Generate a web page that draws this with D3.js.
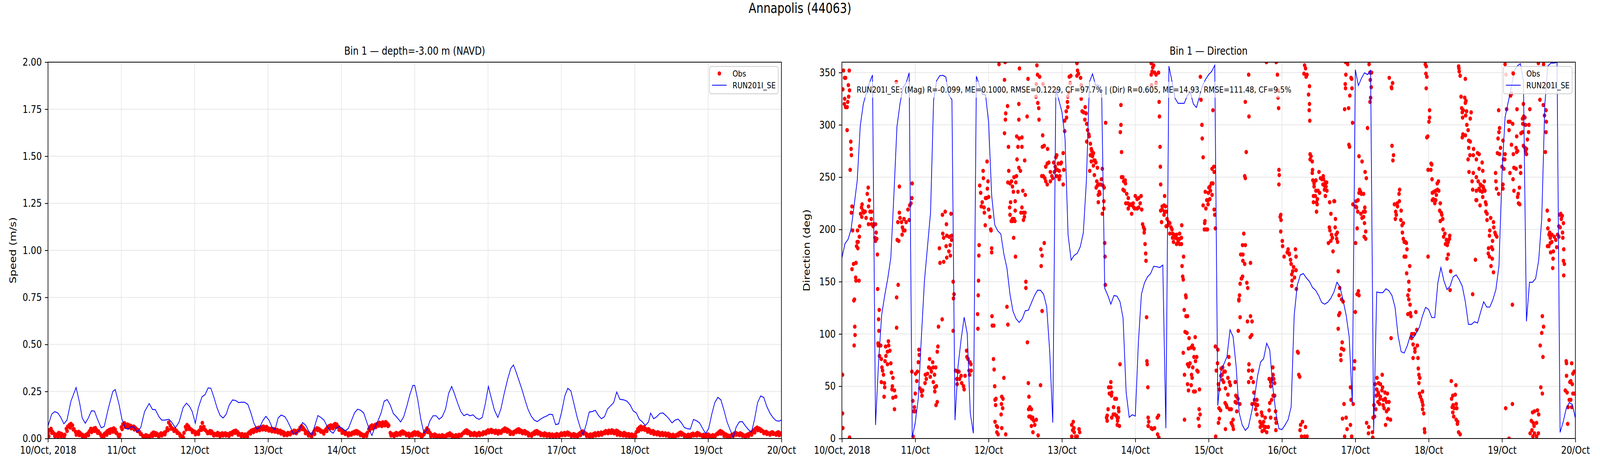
<!DOCTYPE html>
<html>
<head>
<meta charset="utf-8">
<script src="https://cdn.jsdelivr.net/npm/d3@7"></script>
<style>
  html, body { margin: 0; padding: 0; width: 100%; height: 100%; overflow: hidden; background: #fff; }
  svg { display: block; width: 100vw; height: 100vh; font-family: "DejaVu Sans", sans-serif; }
</style>
</head>
<body>
<svg id="fig" viewBox="0 0 5000 1200" preserveAspectRatio="none"></svg>
<script>
// ---- data ----
const startTime = Date.UTC(2018, 9, 10);   // 10 Oct 2018 00:00
const dayLabels = ['10/Oct, 2018', '11/Oct', '12/Oct', '13/Oct', '14/Oct', '15/Oct',
                   '16/Oct', '17/Oct', '18/Oct', '19/Oct', '20/Oct'];
const speedTicks = [0, 0.25, 0.5, 0.75, 1.0, 1.25, 1.5, 1.75, 2.0];
const dirTicks = [0, 50, 100, 150, 200, 250, 300, 350];
const seriesNames = ['Obs', 'RUN201I_SE'];
const statsText = 'RUN201I_SE: (Mag) R=-0.099, ME=0.1000, RMSE=0.1229, CF=97.7% | (Dir) R=0.605, ME=14.93, RMSE=111.48, CF=9.5%';

// observed speed (m/s), one value every 30 minutes from 10/Oct 00:00
const obsSpeedStep = 0.5;
const obsSpeed = [
  .028,.045,.052,.036,.026,.020,.022,.030,.027,.024,.016,.020,.052,.064,.072,.078,.070,.050,.036,.031,.036,.030,.022,.018,
  .013,.020,.026,.038,.052,.047,.053,.056,.044,.038,.027,.012,.016,.025,.032,.040,.045,.049,.050,.054,.048,.030,.016,.020,
  .060,.076,.082,.072,.075,.070,.068,.060,.064,.058,.050,.044,.034,.024,.014,.010,.018,.015,.012,.016,.026,.032,.030,.027,
  .019,.022,.028,.024,.030,.036,.055,.085,.070,.056,.050,.048,.042,.032,.025,.015,.010,.030,.062,.072,.064,.052,.046,.040,
  .036,.030,.034,.042,.060,.083,.062,.045,.036,.030,.040,.038,.028,.025,.020,.030,.026,.022,.028,.024,.028,.025,.022,.028,
  .030,.036,.040,.042,.035,.026,.020,.024,.015,.022,.018,.028,.035,.042,.045,.048,.052,.055,.058,.052,.060,.064,.058,.062,
  .055,.050,.052,.046,.050,.044,.046,.040,.042,.036,.034,.028,.024,.030,.026,.032,.036,.042,.040,.036,.044,.058,.066,.056,
  .045,.036,.028,.022,.018,.024,.036,.048,.055,.052,.046,.040,.034,.040,.050,.060,.066,.070,.064,.072,.078,.074,.062,.050,
  .045,.040,.036,.030,.025,.028,.022,.030,.034,.038,.040,.036,.030,.024,.020,.016,.022,.030,.050,.064,.070,.066,.072,.076,
  .080,.084,.078,.086,.082,.088,.080,.070,.030,.024,.020,.026,.030,.024,.028,.034,.038,.034,.028,.022,.026,.018,.024,.030,
  .034,.028,.032,.026,.020,.014,.022,.040,.054,.044,.030,.020,.016,.022,.018,.012,.016,.010,.018,.014,.012,.020,.024,.028,
  .022,.016,.012,.018,.014,.020,.016,.024,.032,.040,.044,.038,.032,.028,.024,.030,.026,.022,.030,.026,.024,.034,.030,.038,
  .044,.040,.046,.042,.038,.042,.036,.040,.034,.042,.048,.054,.050,.046,.040,.034,.030,.036,.040,.046,.050,.044,.040,.036,
  .040,.034,.030,.024,.020,.026,.032,.038,.040,.034,.030,.026,.022,.028,.024,.020,.024,.018,.022,.016,.020,.024,.018,.022,
  .028,.024,.030,.026,.032,.028,.022,.018,.024,.020,.016,.022,.028,.034,.038,.032,.026,.020,.016,.022,.018,.024,.028,.024,
  .030,.026,.032,.028,.034,.040,.036,.042,.038,.044,.040,.036,.042,.038,.032,.028,.024,.030,.026,.020,.024,.018,.022,.016,
  .020,.034,.050,.058,.064,.056,.060,.052,.046,.050,.042,.036,.040,.034,.028,.034,.030,.026,.030,.024,.028,.022,.026,.020,
  .016,.020,.014,.018,.022,.028,.032,.028,.022,.018,.014,.020,.016,.022,.026,.020,.024,.030,.026,.020,.016,.020,.014,.018,
  .022,.016,.012,.018,.014,.020,.026,.034,.040,.036,.030,.024,.020,.016,.012,.016,.020,.026,.030,.026,.022,.028,.024,.018,
  .014,.018,.022,.026,.030,.036,.044,.052,.058,.054,.050,.044,.038,.032,.036,.030,.026,.030,.034,.028,.024,.030,.034,.028,
  .026
];
// lower samples of the noisy observed speed, hourly at hh:15
const obsSpeedLowOffset = 0.25;
const obsSpeedLow = [
  .012,.030,.012,.010,.012,.008,.040,.058,.048,.020,.018,.010,
  .006,.018,.034,.040,.030,.020,.008,.020,.030,.036,.030,.008,
  .050,.062,.058,.054,.048,.040,.024,.006,.008,.006,.014,.018,
  .010,.016,.022,.044,.052,.040,.030,.014,.006,.048,.050,.034,
  .022,.024,.046,.048,.028,.028,.016,.018,.012,.016,.016,.014,
  .022,.030,.020,.012,.010,.010,.026,.034,.040,.044,.048,.046,
  .042,.038,.036,.032,.026,.018,.018,.022,.030,.028,.044,.050,
  .028,.016,.010,.024,.044,.036,.026,.040,.054,.054,.062,.046,
  .030,.024,.016,.020,.026,.026,.018,.010,.014,.044,.054,.060,
  .068,.066,.070,.066,.016,.012,.018,.020,.026,.018,.012,.016,
  .020,.018,.008,.030,.034,.012,.012,.006,.006,.006,.010,.016,
  .010,.008,.010,.016,.030,.028,.018,.018,.016,.018,.022,.026,
  .032,.034,.030,.026,.030,.040,.036,.024,.024,.034,.034,.028,
  .026,.016,.014,.024,.026,.018,.016,.014,.012,.010,.012,.012,
  .018,.018,.020,.012,.012,.010,.018,.026,.014,.008,.012,.016,
  .018,.020,.028,.028,.030,.028,.020,.018,.016,.014,.012,.010,
  .012,.040,.048,.046,.036,.030,.024,.022,.018,.018,.016,.012,
  .008,.010,.016,.020,.012,.008,.010,.016,.016,.018,.010,.008,
  .012,.006,.010,.024,.026,.014,.008,.008,.014,.020,.018,.014,
  .008,.014,.020,.032,.044,.040,.028,.024,.020,.024,.020,.018,
  .018
];

// model speed (m/s): [hour since start, value]
const modelSpeed = [
  [0,.067],[1.2,.129],[2.2,.143],[3.2,.136],[4.2,.112],[5.2,.078],[6.2,.098],[7.5,.198],[9.2,.271],[10.4,.185],
  [11.2,.109],[12.2,.081],[13.2,.109],[14.2,.147],[15.2,.146],[16.2,.102],[17.4,.057],[18.4,.064],[19.7,.157],[21.2,.25],
  [22,.26],[23.2,.185],[24.2,.102],[25.4,.054],[26.2,.050],[27.4,.064],[28.2,.061],[29.2,.033],[30.4,.061],[31.6,.143],
  [33.1,.186],[34.2,.154],[35.1,.154],[36.3,.116],[37.2,.098],[38.2,.098],[39.6,.102],[40.4,.088],[41.7,.057],[42.9,.088],
  [44.2,.164],[45.3,.188],[46.3,.171],[47.2,.143],[48.2,.081],[49.2,.164],[50.4,.222],[51.4,.233],[52.4,.269],[53.3,.267],
  [54.3,.219],[55.3,.164],[56.3,.123],[57.3,.109],[58.3,.129],[59.3,.178],[60.4,.205],[61.4,.202],[62.4,.191],[63.3,.193],
  [64.3,.193],[65.4,.181],[66.4,.136],[67.4,.081],[68.4,.050],[69.3,.061],[70.3,.095],[71.3,.118],[72.3,.098],[73.3,.061],
  [74.3,.047],[75.3,.109],[76.3,.125],[77.5,.116],[78.3,.095],[79.3,.061],[80.3,.025],[81.3,.030],[82.3,.047],[83.3,.085],
  [84.3,.071],[85.3,.040],[86.3,.016],[87.3,.067],[88.3,.122],[89.3,.112],[90.3,.098],[91.3,.067],[92.3,.040],[93.3,.028],
  [94.3,.054],[95.3,.064],[96.3,.054],[97.3,.040],[98.3,.054],[99.3,.095],[100.3,.136],[101.3,.156],[102.3,.150],[103.3,.136],
  [104.3,.088],[105.3,.040],[106,.016],[107,.061],[108,.095],[109,.136],[110,.198],[111,.207],[112,.178],[113,.133],
  [114,.116],[115.4,.088],[116.4,.116],[117.4,.171],[118.4,.233],[119.4,.282],[120,.282],[121,.205],[122,.102],[123,.030],
  [124,.047],[125,.095],[126,.121],[127,.121],[128,.102],[129,.116],[130.1,.157],[131.1,.240],[132.1,.277],[133.1,.233],
  [134.1,.185],[135.1,.143],[136.1,.121],[137.1,.130],[138.1,.121],[139.1,.126],[140.1,.109],[141.1,.102],[142.1,.112],[143.1,.185],
  [144.1,.277],[145.1,.212],[146.1,.150],[147.2,.112],[148.2,.157],[149.2,.233],[150.4,.315],[151.4,.371],[152.3,.391],[153.1,.357],
  [154.1,.309],[155.1,.260],[156.1,.205],[157.1,.154],[158.1,.119],[159.1,.098],[160.1,.090],[161.1,.102],[162.1,.112],[163.1,.119],
  [164.1,.129],[165.1,.127],[166.1,.074],[167.1,.078],[168.1,.143],[169.1,.226],[170.1,.267],[171.1,.253],[172.1,.185],[173.1,.116],
  [174.1,.061],[175.1,.021],[176.1,.074],[177.1,.141],[178.1,.143],[179.1,.150],[180.1,.123],[181.1,.105],[182.1,.116],[183.1,.157],
  [184.1,.174],[185.1,.191],[186.1,.247],[187.1,.209],[188.5,.205],[189.5,.198],[190.5,.178],[191.5,.147],[192.5,.136],[193.5,.102],
  [194.5,.088],[195.5,.069],[196.5,.088],[197.2,.135],[198.2,.105],[199.2,.116],[200.2,.133],[201.2,.136],[202.2,.122],[203.2,.105],
  [204.2,.083],[205.2,.098],[206.2,.103],[207.2,.085],[208.2,.059],[209.2,.052],[210.2,.050],[211.2,.101],[212.2,.095],[213.2,.083],
  [214.2,.054],[215.2,.026],[216.2,.054],[217.2,.129],[218.2,.191],[219.2,.219],[220.2,.205],[221.2,.150],[222.2,.088],[223.2,.047],
  [224.2,.006],[225.2,.061],[226.2,.088],[227.2,.090],[228.2,.067],[229.2,.047],[230.2,.033],[231.2,.102],[232.2,.191],[233.2,.226],
  [234.2,.219],[235.2,.171],[236.2,.136],[237.2,.112],[238.2,.095],[239.2,.092],[240,.098]
];

// model direction (deg), hourly from 10/Oct 00:00
const modelDir = [
  172.9,186.4,190.4,200.2,223,246.5,299,320,330.6,340,347.7,12.9,73.6,118,136.7,153,172.9,232.5,298,320,
  335.7,340,349.8,1.2,15.2,38.6,97,150.7,183.4,216,323.6,342.3,347,347.4,345.8,328.7,324,17.5,69,94.6,
  116,100.5,24.5,5,346.5,337.6,329.4,328.7,302.6,232.5,204.4,198.6,195.6,176.4,162.9,137.9,121.5,114.5,111,114.5,
  122.2,122.7,129.7,136.7,141.8,141.8,137.9,126.2,83,15.2,334,323.6,312.4,287.4,195,170.6,175.2,177.1,183.4,197,
  246.5,341,348.8,338,338,328.7,143.7,137,128.5,136.7,136.2,130.8,115.2,44.4,20.3,22.7,21.5,91.1,137.9,148.8,
  154.7,157.7,164.7,164.3,163.6,165.9,9.8,356.3,341.8,325.5,320.6,320.6,320.6,327.8,331.5,320,316.6,327.1,337.6,343.5,
  348.1,351.2,357,31.5,64.3,71.3,78.3,104,97.4,69,24.5,12.9,7.7,11,24.5,38.6,59.6,73.1,76.4,91.1,
  84.6,49.1,24.5,9.3,8.6,12.9,18,30.4,118,146.5,156.5,157.7,153.5,150.2,144.4,141.8,136.7,130.1,128.5,130.4,
  134.3,140.2,149.5,144.9,132,118,97,33.9,352.8,337.6,344.6,349.8,348.1,352.1,7,140.2,139.5,139.5,143.2,141.4,
  136.7,125.5,98.1,83,81.8,88.8,98.6,96.5,101.2,106.8,117.5,125.5,123.4,115.7,115.7,148.8,163.6,150.7,142.5,145.6,
  154.7,156.5,151.9,145.6,130.8,109.3,109.1,111.7,110.5,121,130.8,125.7,125.7,132.7,142.5,165.2,253.5,307.2,321.3,335.3,
  351.6,356.3,358.6,342.3,112.1,149.5,149.5,153,170.6,210.3,318.9,356.3,359.1,359.1,359.8,5.8,15.7,28.5,34.3,32.7,
  19.4
];

// observed direction (deg): [hour since start, value]
const obsDir = [
  [0.5,352],[2.4,352],[0.9,345],[1.2,345],[0.3,334],[2.1,338],[2.5,333],[2.2,327],[0.9,325],[0.8,320],[1.2,317],[1.7,317],[1.9,322],[1.7,295],[2.9,284],[3.0,277],[3.1,271],[2.7,257],[0.2,61],[0.2,24],[0.3,10],[2.5,1],
  [3.3,222],[3.1,216],[3.5,199],[3.8,167],[4.6,168],[3.3,162],[4.5,154],[4.6,151],[5.6,151],[3.9,132],[4.1,133],[4.2,107],[4.3,99],[4.0,89],[5.1,199],[5.7,193],[5.3,188],[5.0,188],[4.8,184],[5.2,182],[5.8,203],
  [6.6,224],[6.4,221],[6.1,215],[6.5,212],[6.9,218],[7.1,216],[7.6,217],[7.9,211],[8.3,234],[8.6,240],[9.0,228],[8.7,222],[9.2,217],[9.7,217],[9.6,210],[8.7,205],[9.7,205],[10.2,203],[10.5,205],[11.0,205],[11.2,197],[10.8,192],[11.0,189],[11.4,191],[11.6,176],
  [11.7,143],[12.2,123],[12.0,114],[12.1,103],[11.8,91],[11.9,89],[12.7,89],[12.3,79],[12.9,76],[13.1,68],[13.3,65],[13.6,61],[12.9,54],[13.9,53],[14.0,49],[13.8,40],[14.3,88],[14.4,79],[14.1,74],[14.9,71],[15.2,93],[15.3,89],[14.9,83],[15.7,84],[16.0,72],[16.2,63],[16.7,58],[16.5,50],[16.4,47],[17.2,46],[16.7,39],[17.6,40],[17.2,28],
  [17.9,106],[17.9,135],[18.4,147],[18.1,190],[18.6,189],[18.3,207],[18.8,216],[19.0,211],[19.5,207],[19.8,202],[20.1,199],[19.7,195],[20.6,199],[20.3,210],[21.0,207],[21.6,219],[22.2,223],[22.0,209],[22.6,225],[22.9,230],[23.0,244],[18.8,241],[17.8,341],
  [22.9,64],[24.1,62],[24.7,64],[24.5,55],[25.2,85],[25.3,80],[25.0,73],[24.0,43],[23.2,36],[23.7,30],[23.5,26],[24.0,26],[23.3,2],[25.5,48],[26.0,45],[26.4,46],[26.2,41],[27.3,61],[27.2,53],[27.6,57],[28.0,62],[28.7,76],[28.4,68],[29.0,67],[29.7,73],[29.3,64],[28.9,59],[29.9,68],[30.7,68],[30.3,61],[29.9,54],[30.4,49],[30.9,50],[30.4,45],[31.2,35],[30.8,32],[31.2,83],[31.4,88],[31.6,107],[32.8,114],
  [31.9,182],[32.1,168],[33.3,169],[32.9,214],[33.8,217],[34.2,205],[33.0,196],[33.3,192],[34.3,194],[35.1,193],[35.9,194],[34.1,184],[35.4,185],[35.0,179],[34.3,173],[35.5,175],[35.7,215],[35.9,190],
  [36.4,150],[36.7,138],[36.5,134],[36.4,103],[37.2,65],[37.9,64],[38.3,64],[37.6,57],[37.7,52],[38.5,57],[39.0,60],[39.2,53],[39.8,50],[40.0,47],[40.3,60],[40.8,84],[40.9,78],[41.3,76],[41.6,65],[41.9,73],[42.3,65],[42.2,71],[41.8,61],
  [44.4,119],[44.5,105],[44.7,151],[44.6,137],[44.8,175],[44.9,185],[45.1,242],[45.4,235],[45.6,222],[45.9,226],[46.2,256],[46.3,249],[46.5,221],[46.6,216],[46.9,204],[47.0,230],[47.3,230],[47.6,239],[47.8,246],[47.5,265],[48.0,219],[48.4,212],[48.7,200],[48.0,231],[48.8,199],[49.0,182],[49.0,178],
  [49.1,117],[49.2,108],[49.7,108],[49.6,76],[49.8,66],[50.0,50],[50.1,37],[50.3,32],[50.4,38],[50.1,16],[50.6,12],[50.9,11],[50.7,6],[51.1,4],[52.3,40],[52.7,38],[52.2,33],[52.6,29],[52.1,23],[52.3,10],[53.6,4],[53.0,58],[54.0,126],[54.3,109],
  [53.2,292],[53.5,305],[53.6,311],[54.2,318],[54.5,279],[53.2,343],[51.4,358],[53.4,360],[54.6,256],[54.3,245],[55.0,244],[55.5,246],[55.8,241],[56.1,236],[56.3,250],[57.1,251],[56.9,245],[57.6,236],[55.2,226],[54.9,221],[55.4,208],[55.0,214],[55.8,210],[56.3,210],[56.6,208],[55.8,208],[56.7,218],[56.7,227],[56.2,192],[56.8,174],
  [57.3,267],[57.6,279],[57.9,259],[57.2,289],[58.0,287],[58.9,288],[58.9,279],[58.4,256],[57.9,305],[57.9,320],[58.1,354],[59.2,237],[58.9,221],[58.6,216],[59.4,216],[59.9,216],[59.7,212],[59.4,209],[60.0,233],[59.8,266],[60.6,308],[60.9,344],[60.2,150],[60.2,144],
  [60.7,92],[61.0,53],[61.2,40],[61.5,30],[61.1,28],[62.0,28],[61.2,21],[61.7,21],[62.1,19],[62.4,20],[62.8,17],[63.6,18],[62.0,12],[63.1,13],[62.5,6],[64.2,3],
  [63.8,357],[64.0,348],[64.7,346],[64.1,321],[64.4,316],[64.5,305],[63.6,339],[63.5,327],[65.8,339],[65.7,290],[65.6,279],[66.2,280],[67.3,277],[65.4,251],[65.9,251],[66.4,249],[66.7,260],[67.2,263],[67.7,264],[68.2,255],[68.7,251],[66.7,246],[67.2,243],[68.2,246],[69.0,249],
  [69.3,264],[69.8,260],[70.0,257],[69.5,255],[70.3,251],[70.0,269],[70.3,271],[70.8,263],[70.5,257],[71.1,256],[71.6,263],[71.3,251],[71.1,248],[72.4,273],[72.6,257],[72.4,243],[71.8,264],[66.2,187],[65.1,181],[65.5,175],[65.2,165],[65.5,122],[65.0,51],
  [72.9,294],[72.9,304],[73.5,307],[73.4,313],[73.9,317],[73.8,322],[73.9,327],[74.2,331],[74.4,346],[74.9,347],[74.7,340],[76.9,359],[77.1,352],[77.4,349],[76.9,347],[78.1,345],[78.3,338],[78.3,325],[78.6,313],[79.1,312],[79.6,317],[79.9,311],[79.5,305],[80.1,301],[80.4,295],[80.1,284],
  [75.7,16],[75.2,13],[75.9,10],[75.5,8],[76.0,6],[76.5,2],[75.2,2],[77.6,9],[77.8,6],[77.0,2],
  [80.8,291],[80.9,289],[81.3,282],[81.1,256],[81.6,277],[81.8,275],[82.1,272],[81.3,271],[82.0,270],[82.3,273],[81.6,265],[82.5,266],[82.3,261],[82.8,266],[83.1,264],[83.6,259],[82.6,252],[83.4,246],[83.2,240],[83.6,242],[84.1,243],[84.7,243],[84.9,248],[84.2,236],[83.9,233],[84.4,234],[83.9,226],[85.2,258],[85.4,242],[85.8,240],[85.7,227],[85.7,220],[85.2,215],[86.0,187],[86.1,174],[86.2,147],[86.3,302],
  [91.3,319],[91.3,300],[91.1,293],[91.5,274],[91.5,250],[91.9,250],[92.2,246],[92.7,247],[92.8,244],[92.0,238],[92.4,237],[93.2,234],[93.7,230],[93.6,225],[94.1,223],[92.9,225],[93.7,220],[94.5,224],[95.0,223],[95.5,221],[95.3,225],[96.0,232],[96.6,229],[97.1,230],[97.9,232],[97.6,225],[97.1,221],[96.6,220],[95.8,220],[94.8,215],
  [98.1,219],[98.4,205],[98.7,202],[99.0,200],[98.9,197],[99.2,186],[99.4,177],[99.5,170],[99.7,116],[99.8,74],[99.9,71],[100.1,49],[100.2,20],[100.4,16],[100.2,12],[101.2,10],[101.6,9],[102.3,10],[103.2,20],[103.6,22],[103.3,4],[103.7,1],
  [91.0,71],[88.0,54],[87.3,49],[88.0,49],[87.5,43],[88.3,44],[88.2,41],[89.3,38],[89.8,38],[87.1,28],[86.8,22],[86.6,20],[86.8,17],[88.3,20],[88.8,23],[88.9,30],[89.3,23],[89.8,22],[90.1,20],[90.4,20],[90.2,17],[90.5,29],[90.6,26],[90.1,13],[90.8,12],
  [101.2,359],[102.0,357],[101.5,351],[101.2,348],[102.3,350],[102.8,348],[103.6,350],[101.7,355],[101.3,338],[102.8,340],[103.8,322],[103.9,308],[104.1,279],[104.2,260],[104.3,243],
  [105.6,232],[105.4,223],[104.8,222],[105.9,222],[104.3,218],[104.8,219],[105.6,217],[106.1,217],[105.4,214],[106.4,210],[106.9,207],[106.7,204],[106.1,203],[107.3,206],[107.7,202],[107.3,196],[108.0,200],[108.2,196],[108.7,195],[108.2,192],[108.5,188],[109.0,192],[109.5,195],[109.2,192],[109.8,191],[110.0,188],[109.5,186],[110.5,196],[110.5,191],[111.1,192],[110.0,187],[110.5,186],[111.1,186],[104.6,207],[111.2,204],
  [111.8,174],[111.3,165],[111.5,155],[111.7,152],[112.5,137],[112.6,135],[112.0,123],[112.6,117],[113.1,117],[112.3,102],[112.9,101],[113.6,96],[113.4,86],[114.2,87],[114.7,89],[115.2,86],[111.7,82],[113.1,71],[113.9,72],[113.5,69],[114.8,68],[115.2,78],[115.7,74],[116.1,78],[115.6,97],[116.2,65],[116.5,64],[112.1,61],[114.4,61],[114.6,58],[113.1,52],[114.3,51],[113.4,46],[115.1,45],[115.6,45],[117.0,47],[116.9,28],[117.2,23],[116.6,19],[116.9,12],[112.1,18],
  [117.3,346],[117.8,300],[117.9,287],[118.2,269],[117.5,324],[121.4,314],
  [121.1,258],[121.7,260],[121.8,255],[120.9,244],[121.4,244],[120.4,241],[120.1,240],[120.6,237],[119.9,235],[118.9,236],[119.4,228],[119.9,228],[120.4,229],[121.1,233],[119.8,224],[118.2,223],[119.1,220],[121.8,219],[122.0,214],[118.8,208],[118.7,206],[118.6,200],[119.2,200],[119.6,200],[122.2,201],
  [122.3,2],[122.2,88],[123.0,85],[122.9,72],[122.5,65],[123.5,47],[123.2,52],[124.1,67],[124.6,68],[124.4,61],[124.0,60],[125.0,64],[125.4,64],[124.5,56],[124.9,54],[125.5,48],[126.3,58],[126.6,78],[126.7,71],[126.8,54],[127.1,51],[126.3,42],[125.4,34],[125.8,32],[126.0,30],[126.8,28],[127.4,28],
  [128.7,54],[128.9,41],[129.2,40],[129.6,38],[128.7,35],[129.1,34],[130.2,33],[129.2,26],[123.4,29],[123.9,27],[123.5,19],[123.2,15],[125.5,9],[127.4,15],[128.0,18],[127.6,14],[127.9,12],[128.1,9],
  [129.7,103],[129.9,132],[130.1,137],[129.9,133],[130.3,116],[130.3,148],[130.7,153],[131.1,155],[130.8,153],[130.5,176],[131.2,176],[131.1,185],[132.0,185],[131.5,196],[131.2,170],[131.8,167],[132.5,149],[132.8,144],[133.7,168],[132.7,112],[133.7,117],[134.2,112],[134.1,99],[133.6,97],
  [133.2,71],[133.1,65],[134.3,65],[133.9,58],[133.1,54],[134.6,54],[134.8,44],[135.0,37],[135.8,37],[135.3,33],[134.2,33],[135.5,32],[136.0,32],[135.4,28],[135.8,23],[137.3,25],[137.5,22],[138.5,20],[136.8,16],[137.2,14],[138.0,16],[137.9,12],[136.9,11],[138.7,11],[139.5,11],[138.2,8],[137.5,7],[139.0,6],
  [139.8,27],[140.3,20],[141.9,26],[141.9,19],[142.1,15],[142.0,8],[140.0,34],[140.6,37],[141.1,41],[141.6,41],[139.8,57],[140.3,54],[140.7,57],[141.1,61],[141.6,53],[141.3,57],[141.0,68],[140.3,50],
  [132.0,322],[133.2,308],[132.3,274],[131.8,251],[132.0,249],[133.1,348],[138.9,360],[142.1,360],[142.5,348],[142.9,316],[142.7,326],[142.7,333],[143.0,257],[143.1,252],[143.0,243],[143.6,214],[143.4,212],[143.7,209],[143.6,198],[144.1,189],[144.2,184],[144.7,174],
  [146.0,181],[145.7,178],[146.4,176],[146.8,171],[146.4,177],[148.4,181],[148.6,174],[147.0,167],[147.8,164],[148.6,161],[147.5,160],[147.2,157],[147.3,151],[148.1,154],[147.2,146],[148.7,143],[149.1,83],[149.3,82],[149.5,61],[149.8,59],[150.7,16],[150.1,13],[151.7,11],[149.9,8],[150.4,2],[151.4,2],[152.2,2],
  [151.4,357],[151.7,354],[151.2,349],[151.9,346],[152.2,348],[153.0,337],[152.7,329],[153.0,320],[152.9,314],[153.1,304],[153.2,272],[153.5,270],[153.2,267],[153.9,265],[154.0,257],[153.9,254],[154.1,247],[155.1,247],[154.5,244],[154.5,241],[155.1,237],[155.8,237],[156.3,235],[156.1,255],[156.6,249],[157.1,248],[157.5,251],[157.6,248],
  [158.2,245],[158.6,245],[157.4,243],[157.9,242],[158.4,241],[157.9,238],[158.7,237],[158.2,232],[154.3,232],[154.9,232],[155.6,229],[154.3,226],[155.3,226],[155.5,224],[155.3,217],[159.6,226],[160.0,215],[159.5,202],[159.7,199],[160.2,195],[159.2,187],[160.0,189],[160.5,192],[160.7,179],[161.0,227],
  [161.2,227],[161.5,210],[161.4,202],[161.7,195],[162.1,197],[161.9,191],[162.2,188],[162.4,160],[162.9,144],[162.7,137],[163.5,133],[164.0,131],[162.9,120],[162.6,118],[162.4,105],[163.7,92],[163.5,86],[164.2,85],[163.2,80],[163.3,75],[164.3,33],[163.8,19],[165.0,20],[165.3,9],[166.4,13],[166.8,2],[164.5,2],[166.4,49],[166.6,37],[167.3,33],[167.8,74],[167.6,67],
  [168.0,121],[168.6,138],[169.0,141],[169.2,137],[168.1,187],[168.6,201],[168.4,221],[168.1,222],[168.9,228],[168.3,227],[167.2,224],[168.8,217],[169.4,238],[169.7,236],[169.2,235],[170.0,234],[170.7,234],[169.8,215],[170.2,211],[170.7,217],[171.1,221],[171.2,217],[170.7,212],[171.0,206],[171.4,198],[170.9,193],[171.4,191],[171.6,249],[171.2,255],[170.2,265],[169.2,270],[172.0,297],
  [172.5,358],[172.8,350],[173.3,350],[172.9,343],[173.2,336],[173.0,326],[172.8,322],[167.1,302],[165.8,316],[164.5,315],[164.9,348],[164.7,339],[164.8,335],[166.6,345],[166.8,344],[166.9,335],[166.2,328],[165.9,281],[166.1,279],[164.8,360],[165.5,358],
  [171.7,15],[172.4,11],[172.3,5],[173.6,6],[173.7,1],[173.8,20],[174.3,21],[174.1,32],[174.7,28],[174.5,52],[175.1,58],[175.6,53],[176.2,52],[175.0,47],[175.5,44],[174.9,41],[175.6,42],[176.2,40],[176.8,61],[176.9,49],[176.7,46],[177.2,37],[176.1,38],[175.4,35],[175.9,33],[177.1,32],
  [177.7,44],[178.5,43],[177.8,38],[178.2,35],[179.0,35],[177.4,29],[178.2,26],[178.8,28],[177.9,13],[178.6,19],[179.5,18],[179.7,96],[179.1,345],[180.2,340],[179.8,336],[179.9,335],[180.0,280],[180.5,271],[180.3,266],
  [180.8,224],[181.7,225],[182.3,234],[182.5,238],[182.4,227],[181.8,222],[181.2,217],[181.4,214],[181.1,210],[183.0,218],[182.9,209],[183.3,204],[183.7,206],[183.4,197],[183.7,191],[184.0,188],[184.4,188],[184.7,187],[184.9,181],[184.0,174],[184.5,174],[185.8,165],[184.8,158],[185.5,150],[185.6,142],[185.2,137],[185.5,133],[185.9,128],[185.2,119],[186.0,120],[186.2,117],[187.8,121],
  [186.5,100],[187.3,100],[188.1,104],[186.4,96],[186.9,90],[187.5,86],[188.3,89],[187.5,83],[186.9,77],[188.5,77],[188.6,67],[188.8,61],[189.1,58],[188.8,53],[189.0,43],[189.3,40],[190.0,45],[189.7,37],[189.9,35],[190.1,32],[190.0,28],[190.4,24],[190.6,9],[190.7,6],
  [190.9,358],[191.2,356],[191.1,349],[191.4,346],[191.2,335],[192.3,314],[192.3,307],[192.1,303],[191.7,289],[191.4,288],[191.8,257],[192.8,263],[193.0,262],[192.7,257],[193.1,248],[193.2,235],[193.7,236],[194.3,237],[194.9,238],[195.3,237],[195.2,246],[194.8,244],[193.5,229],[193.2,228],[194.0,225],[194.3,228],[194.5,233],
  [195.8,225],[195.6,218],[196.1,216],[196.3,214],[195.8,208],[196.6,210],[196.7,200],[197.3,196],[196.9,193],[197.8,190],[197.5,186],[198.4,188],[198.8,191],[198.9,194],[198.1,185],[198.4,176],[198.0,172],[191.8,174],[199.2,160],[199.0,142],
  [199.4,55],[200.9,51],[199.9,41],[199.5,38],[200.7,42],[200.0,32],[201.0,33],[199.7,30],[200.4,29],[201.2,29],[199.9,25],[200.2,21],[201.0,18],[201.5,16],[201.4,14],[201.8,6],[202.3,4],
  [201.8,356],[201.9,354],[202.0,351],[202.3,347],[204.0,344],[202.6,327],[203.8,326],[204.2,323],[204.0,321],[202.8,316],[203.3,314],[203.0,312],[204.4,313],[205.9,312],[204.1,309],[205.6,306],[203.1,307],[204.5,300],[204.9,295],[203.2,291],[204.0,290],[203.0,288],[205.1,285],[205.6,284],[205.1,278],[206.7,277],
  [208.0,273],[208.5,272],[205.5,271],[206.6,271],[207.6,267],[204.9,267],[209.5,264],[208.5,258],[209.7,256],[205.2,255],[206.6,254],[207.6,250],[208.9,243],[210.2,246],[206.2,246],[208.2,246],[209.2,242],[209.8,241],[210.0,239],[209.5,236],[210.4,237],[208.5,239],[208.8,237],[207.6,237],[206.4,238],
  [209.7,231],[210.6,226],[210.8,224],[208.8,223],[207.5,228],[207.7,228],[210.7,217],[211.1,215],[211.1,209],[212.3,211],[213.2,207],[213.3,202],[212.0,199],[213.7,197],[213.9,195],[214.3,193],[211.9,194],[212.9,189],[212.6,183],[211.6,182],[212.9,181],[211.5,177],[211.9,174],[212.8,172],[212.4,165],[213.2,159],[207.3,171],[206.4,138],
  [219.4,128],[217.2,29],[219.4,33],[218.3,0],[213.9,254],[214.0,246],[214.2,239],[214.9,234],[214.5,273],[215.2,272],[215.5,278],[214.7,287],[215.0,293],[215.2,297],[216.3,285],[216.5,267],[216.9,267],[216.0,260],[216.6,258],[216.3,243],[216.3,239],[217.0,272],
  [214.9,314],[217.5,315],[218.8,328],[219.1,330],[217.3,348],[217.0,358],[219.4,350],[218.1,303],[218.6,303],[219.5,301],[218.3,295],[219.1,281],[219.7,272],[220.6,278],[220.8,274],[221.1,275],[220.8,289],[218.6,254],[219.9,259],[220.6,258],[222.0,260],[222.1,254],[219.6,248],[219.9,237],[221.3,234],[221.1,231],[221.7,240],[221.4,225],[221.8,224],
  [222.2,292],[222.7,293],[222.7,306],[223.1,308],[223.5,307],[222.8,301],[223.7,300],[224.8,300],[223.0,280],[223.5,278],[224.0,277],[223.7,275],[224.0,272],[224.3,286],[224.7,293],[223.0,320],[220.9,315],[225.1,315],
  [228.4,324],[229.5,319],[230.4,314],[229.9,309],[230.5,303],[230.4,293],[230.2,274],[227.9,359],[229.6,358],
  [230.8,218],[231.4,209],[231.0,201],[231.6,197],[231.4,195],[232.3,195],[231.8,192],[232.3,188],[231.3,184],[231.8,187],[230.9,184],[233.1,193],[233.6,190],[234.2,195],[234.6,193],[234.9,214],[235.2,215],[235.7,213],[235.4,210],[236.1,206],[234.6,203],[235.0,202],[235.8,197],[235.9,192],[236.2,181],[236.1,170],[236.4,167],[236.2,156],[233.9,183],[232.8,179],[231.9,178],[232.7,172],[232.6,163],
  [229.2,117],[229.6,107],[229.0,101],[228.5,89],[229.4,78],[228.7,49],[229.2,43],
  [226.0,25],[226.6,26],[227.6,27],[228.0,23],[225.6,17],[226.2,15],[227.3,15],[226.5,12],[225.8,8],[225.2,5],[226.6,5],[227.9,5],[226.1,2],[227.3,2],
  [237.0,74],[237.1,72],[238.8,72],[239.2,62],[239.6,64],[237.1,60],[238.5,55],[238.2,54],[239.0,52],[236.7,46],[237.3,44],[239.2,43],[239.7,43],[238.0,37],[238.5,37],[237.6,30],[238.8,30],[237.5,14]
];

// ---- layout ----
const fig = d3.select('#fig');
const axTop = 159, axW = 2292, axH = 963;
const hourDate = h => new Date(startTime + h * 3600e3);
const dayDates = d3.range(11).map(d => hourDate(d * 24));

function makePanel(id, left, yDomain, yTicks, yFmt, yLabel, title) {
  const g = fig.append('g').attr('transform', `translate(${left},${axTop})`);
  const x = d3.scaleUtc().domain([hourDate(0), hourDate(240)]).range([0, axW]);
  const y = d3.scaleLinear().domain(yDomain).range([axH, 0]);

  // grid
  g.append('g').selectAll('line').data(dayDates).join('line')
    .attr('x1', d => x(d)).attr('x2', d => x(d))
    .attr('y1', 0).attr('y2', axH)
    .style('stroke', '#e6e6e6').style('stroke-width', '2px');
  g.append('g').selectAll('line').data(yTicks).join('line')
    .attr('x1', 0).attr('x2', axW)
    .attr('y1', d => y(d)).attr('y2', d => y(d))
    .style('stroke', '#e6e6e6').style('stroke-width', '2px');

  g.append('clipPath').attr('id', id)
    .append('rect').attr('width', axW).attr('height', axH);
  const plot = g.append('g').attr('clip-path', `url(#${id})`);

  // axes
  const xAxis = g.append('g')
    .attr('transform', `translate(0,${axH})`)
    .call(d3.axisBottom(x).tickValues(dayDates)
      .tickFormat((d, i) => dayLabels[i]).tickSize(9.7).tickPadding(9.7));
  const yAxis = g.append('g')
    .call(d3.axisLeft(y).tickValues(yTicks)
      .tickFormat(yFmt).tickSize(9.7).tickPadding(9.7));
  [xAxis, yAxis].forEach(a => {
    a.select('.domain').remove();
    a.selectAll('line').style('stroke', '#000').style('stroke-width', '2px');
    a.selectAll('text').style('font-size', '27px').style('fill', '#000')
      .style('font-family', '"DejaVu Sans", sans-serif');
  });

  g.append('text')
    .attr('x', axW / 2).attr('y', 140 - axTop)
    .attr('text-anchor', 'middle')
    .style('font-size', '28px')
    .text(title);
  g.append('text')
    .attr('transform', `translate(${-100},${axH / 2}) rotate(-90)`)
    .attr('text-anchor', 'middle')
    .style('font-size', '28px')
    .text(yLabel);

  return { g, plot, x, y };
}

function drawFrame(p) {
  p.g.append('rect')
    .attr('width', axW).attr('height', axH)
    .style('fill', 'none').style('stroke', '#000').style('stroke-width', '2px');
}

function drawLegend(p) {
  const lg = p.g.append('g').attr('transform', `translate(${axW - 225},11)`);
  lg.append('rect')
    .attr('width', 215).attr('height', 70).attr('rx', 6)
    .style('fill', '#fff').style('fill-opacity', 0.8)
    .style('stroke', '#cccccc').style('stroke-width', '2px');
  lg.append('circle').attr('cx', 31).attr('cy', 18).attr('r', 5.5).style('fill', 'red');
  lg.append('line').attr('x1', 8).attr('x2', 54).attr('y1', 48).attr('y2', 48)
    .style('stroke', 'blue').style('stroke-width', '2.2px');
  lg.selectAll('text').data(seriesNames).join('text')
    .attr('x', 72).attr('y', (d, i) => 26 + i * 30)
    .style('font-size', '22px')
    .text(d => d);
}

// ---- speed panel ----
const sp = makePanel('clipSpeed', 150, [0, 2], speedTicks, d3.format('.2f'),
  'Speed (m/s)', 'Bin 1 \u2014 depth=-3.00 m (NAVD)');
const obsG = sp.plot.append('g');
obsG.selectAll('circle.lo').data(obsSpeedLow).join('circle')
  .attr('class', 'lo')
  .attr('cx', (d, i) => sp.x(hourDate(i + obsSpeedLowOffset)))
  .attr('cy', d => sp.y(d))
  .attr('r', 5.5)
  .style('fill', 'red');
obsG.selectAll('circle.mid').data(obsSpeed).join('circle')
  .attr('class', 'mid')
  .attr('cx', (d, i) => sp.x(hourDate(i * obsSpeedStep)))
  .attr('cy', d => sp.y(d))
  .attr('r', 5.5)
  .style('fill', 'red');
sp.plot.append('path')
  .attr('d', d3.line().x(d => sp.x(hourDate(d[0]))).y(d => sp.y(d[1]))(modelSpeed))
  .style('fill', 'none').style('stroke', 'blue').style('stroke-width', '2.2px');
drawFrame(sp);
drawLegend(sp);

// ---- direction panel ----
const dp = makePanel('clipDir', 2631, [0, 360], dirTicks, d3.format('d'),
  'Direction (deg)', 'Bin 1 \u2014 Direction');
dp.plot.append('g').selectAll('circle').data(obsDir).join('circle')
  .attr('cx', d => dp.x(hourDate(d[0])))
  .attr('cy', d => dp.y(d[1]))
  .attr('r', 5.5)
  .style('fill', 'red');
dp.plot.append('path')
  .attr('d', d3.line().x((d, i) => dp.x(hourDate(i))).y(d => dp.y(d))(modelDir))
  .style('fill', 'none').style('stroke', 'blue').style('stroke-width', '2.2px');
drawFrame(dp);

// stats annotation with translucent box
const note = dp.g.append('g');
const noteText = note.append('text')
  .attr('x', 46).attr('y', 78)
  .style('font-size', '22px')
  .text(statsText);
const tw = noteText.node().getComputedTextLength();
note.insert('rect', 'text')
  .attr('x', 40).attr('y', 50).attr('width', tw + 14).attr('height', 41)
  .style('fill', '#fff').style('fill-opacity', 0.65);
drawLegend(dp);

// figure title
fig.append('text')
  .attr('x', 2500).attr('y', 33)
  .attr('text-anchor', 'middle')
  .style('font-size', '35px')
  .text('Annapolis (44063)');
</script>
</body>
</html>
